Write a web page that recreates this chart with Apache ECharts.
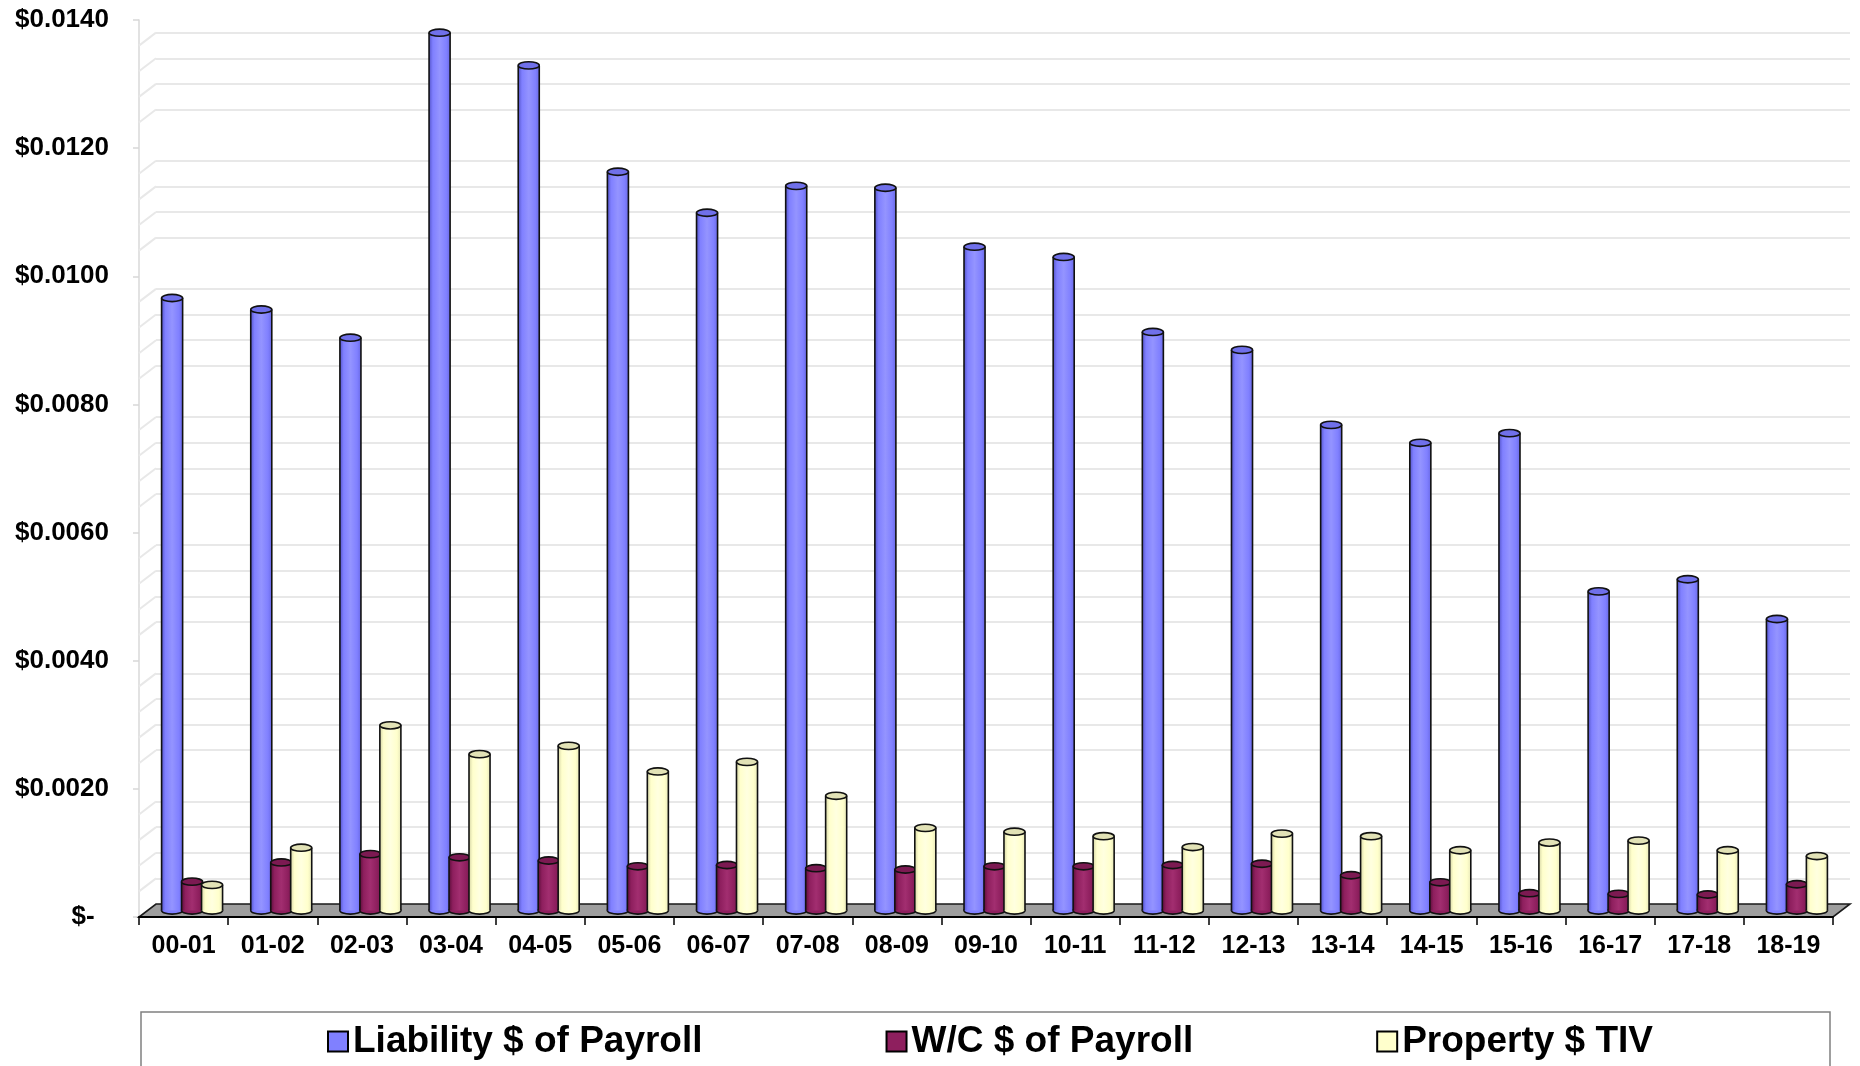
<!DOCTYPE html>
<html>
<head>
<meta charset="utf-8">
<script src="https://cdn.jsdelivr.net/npm/echarts@6/dist/echarts.min.js"></script>
<style>
  html, body { margin: 0; padding: 0; background: #ffffff; }
  #chart { width: 1860px; height: 1066px; }
</style>
</head>
<body>
<div id="chart"></div>
<script>
// Fiscal years
const categories = ['00-01', '01-02', '02-03', '03-04', '04-05', '05-06', '06-07', '07-08', '08-09', '09-10',
                    '10-11', '11-12', '12-13', '13-14', '14-15', '15-16', '16-17', '17-18', '18-19'];

// Cost rates per year
const liabilityPayroll = [0.00956, 0.00938, 0.00894, 0.01370, 0.01319, 0.01153, 0.01089, 0.01131, 0.01128, 0.01036,
                          0.01020, 0.00903, 0.00875, 0.00758, 0.00730, 0.00745, 0.00498, 0.00517, 0.00455];
const wcPayroll = [0.00045, 0.00075, 0.00088, 0.00083, 0.00078, 0.00069, 0.00071, 0.00066, 0.00064, 0.00069,
                   0.00069, 0.00071, 0.00073, 0.00055, 0.00044, 0.00027, 0.00026, 0.00025, 0.00041];
const propertyTiv = [0.00040, 0.00098, 0.00289, 0.00244, 0.00257, 0.00217, 0.00232, 0.00179, 0.00129, 0.00123,
                     0.00116, 0.00099, 0.00120, 0.00116, 0.00094, 0.00106, 0.00109, 0.00094, 0.00085];

const seriesNames = ['Liability $ of Payroll', 'W/C $ of Payroll', 'Property $ TIV'];

// Value axis tick labels (0 .. 0.014 in steps of 0.002)
const yTickLabels = ['$-  ', '$0.0020', '$0.0040', '$0.0060', '$0.0080', '$0.0100', '$0.0120', '$0.0140'];
const Y_MAX = 0.014;
const Y_STEP = 0.002;
const GRID_STEP = 0.0004;

// ---- layout of the pseudo-3D box ----
const FRONT_LEFT = 139, FRONT_RIGHT = 1833, FRONT_TOP = 20, FRONT_BASE = 917;
const DEPTH_X = 17, DEPTH_Y = 13;
const PLOT_W = FRONT_RIGHT - FRONT_LEFT;
const PLOT_H = FRONT_BASE - FRONT_TOP;
const FONT = "'Liberation Sans', Arial, Helvetica, sans-serif";

// cylinder palettes
const palettes = [
  { base: '#8080ff', dark: '#5656cc', light: '#9494ff', right: '#6a6ae6', cap: '#7070ea' },
  { base: '#8e1f5e', dark: '#5e0f3c', light: '#a22e70', right: '#781a50', cap: '#7c1a52' },
  { base: '#ffffcc', dark: '#d6d6a6', light: '#ffffe0', right: '#e8e8ba', cap: '#e2e2b6' }
];

function makeCylinderRenderer(seriesIdx) {
  const pal = palettes[seriesIdx];
  return function (params, api) {
    const idx = api.value(0);
    const val = api.value(1);
    const band = api.size([1, 0])[0];
    const w = band * 0.236;
    const spacing = band * 0.224;
    const base = api.coord([idx, 0]);
    const top = api.coord([idx, val]);
    const cx = base[0] + (seriesIdx - 1) * spacing;
    const rx = w / 2, ry = 3.6;
    const grad = new echarts.graphic.LinearGradient(0, 0, 1, 0, [
      { offset: 0, color: pal.dark },
      { offset: 0.18, color: pal.base },
      { offset: 0.5, color: pal.light },
      { offset: 0.82, color: pal.base },
      { offset: 1, color: pal.right }
    ]);
    const stroke = { stroke: '#111111', lineWidth: 1.6 };
    return {
      type: 'group',
      children: [
        { type: 'ellipse', shape: { cx: cx, cy: base[1], rx: rx, ry: ry },
          style: Object.assign({ fill: pal.base }, stroke) },
        { type: 'rect', shape: { x: cx - rx, y: top[1], width: w, height: base[1] - top[1] },
          style: { fill: grad } },
        { type: 'line', shape: { x1: cx - rx, y1: top[1], x2: cx - rx, y2: base[1] }, style: stroke },
        { type: 'line', shape: { x1: cx + rx, y1: top[1], x2: cx + rx, y2: base[1] }, style: stroke },
        { type: 'ellipse', shape: { cx: cx, cy: top[1], rx: rx, ry: ry },
          style: Object.assign({ fill: pal.cap }, stroke) }
      ]
    };
  };
}

const seriesValues = [liabilityPayroll, wcPayroll, propertyTiv];

const gridBox = (dx, dy) => ({
  left: FRONT_LEFT + dx, top: FRONT_TOP - dy, width: PLOT_W, height: PLOT_H,
  containLabel: false, outerBoundsMode: 'none'
});

// back wall minor gridlines; every fifth line (the labelled values) is left blank
const wallLineColors = ['rgba(0,0,0,0)', '#e8e8e8', '#e8e8e8', '#e8e8e8', '#e8e8e8'];

const chart = echarts.init(document.getElementById('chart'), null, { renderer: 'canvas' });

const option = {
  backgroundColor: '#ffffff',
  animation: false,
  textStyle: { fontFamily: FONT },
  grid: [gridBox(0, 0), gridBox(DEPTH_X, DEPTH_Y), gridBox(DEPTH_X / 2, DEPTH_Y / 2)],
  xAxis: [
    {
      gridIndex: 0, type: 'category', data: categories, boundaryGap: true, z: 4,
      axisLine: { show: true, lineStyle: { color: '#000000', width: 2 } },
      axisTick: { show: true, length: 8, lineStyle: { color: '#000000', width: 1.5 } },
      axisLabel: { margin: 17, color: '#000000', fontSize: 25, fontWeight: 'bold', fontFamily: FONT, interval: 0 },
      splitLine: { show: false }
    },
    { gridIndex: 1, type: 'category', data: categories, show: false },
    { gridIndex: 2, type: 'category', data: categories, show: false }
  ],
  yAxis: [
    {
      gridIndex: 0, type: 'value', min: 0, max: Y_MAX, interval: Y_STEP,
      axisLine: { show: true, lineStyle: { color: '#d8d8d8', width: 1.5 } },
      axisTick: { show: true, length: 6, lineStyle: { color: '#d8d8d8', width: 1.5 } },
      axisLabel: {
        margin: 30, color: '#000000', fontSize: 26, fontWeight: 'bold', fontFamily: FONT,
        formatter: (v) => yTickLabels[Math.round(v / Y_STEP)]
      },
      splitLine: { show: false }
    },
    {
      gridIndex: 1, type: 'value', min: 0, max: Y_MAX, interval: GRID_STEP,
      axisLine: { show: false }, axisTick: { show: false }, axisLabel: { show: false },
      splitLine: { show: true, lineStyle: { color: wallLineColors, width: 2 } }
    },
    { gridIndex: 2, type: 'value', min: 0, max: Y_MAX, show: false, splitLine: { show: false } }
  ],
  legend: {
    left: 322, top: 1018, itemGap: 183, itemWidth: 20, itemHeight: 20,
    textStyle: { color: '#000000', fontSize: 37, fontWeight: 'bold', fontFamily: FONT, lineHeight: 37 },
    data: seriesNames.map((n, i) => ({
      name: n, icon: 'rect',
      itemStyle: { color: palettes[i].base, borderColor: '#000000', borderWidth: 2 }
    }))
  },
  series: seriesNames.map((name, s) => ({
    name: name,
    type: 'custom',
    xAxisIndex: 2, yAxisIndex: 2,
    z: 5,
    itemStyle: { color: palettes[s].base, borderColor: '#000000', borderWidth: 2 },
    renderItem: makeCylinderRenderer(s),
    encode: { x: 0, y: 1 },
    data: seriesValues[s].map((v, i) => [i, v])
  }))
};

chart.setOption(option);

// floor, side wall ties and legend frame, placed from the axes' own scales
const graphics = [];
const frontY0 = chart.convertToPixel({ yAxisIndex: 0 }, 0);
const backY0 = chart.convertToPixel({ yAxisIndex: 1 }, 0);

graphics.push({
  type: 'polygon', z: 2, silent: true,
  shape: { points: [
    [FRONT_LEFT, frontY0], [FRONT_RIGHT, frontY0],
    [FRONT_RIGHT + DEPTH_X, backY0], [FRONT_LEFT + DEPTH_X, backY0]
  ] },
  style: { fill: '#9e9e9e', stroke: '#1a1a1a', lineWidth: 1.6 }
});

const nLines = Math.round(Y_MAX / GRID_STEP);
for (let k = 1; k < nLines; k++) {
  if (k % 5 === 0) continue;
  const yb = chart.convertToPixel({ yAxisIndex: 1 }, k * GRID_STEP);
  graphics.push({
    type: 'line', z: 1, silent: true,
    shape: { x1: FRONT_LEFT, y1: yb + DEPTH_Y, x2: FRONT_LEFT + DEPTH_X, y2: yb },
    style: { stroke: '#e8e8e8', lineWidth: 2 }
  });
}

graphics.push({
  type: 'rect', z: 1, silent: true,
  shape: { x: 141, y: 1012, width: 1689, height: 80 },
  style: { fill: 'rgba(0,0,0,0)', stroke: '#808080', lineWidth: 1.5 }
});

chart.setOption({ graphic: graphics });
</script>
</body>
</html>
